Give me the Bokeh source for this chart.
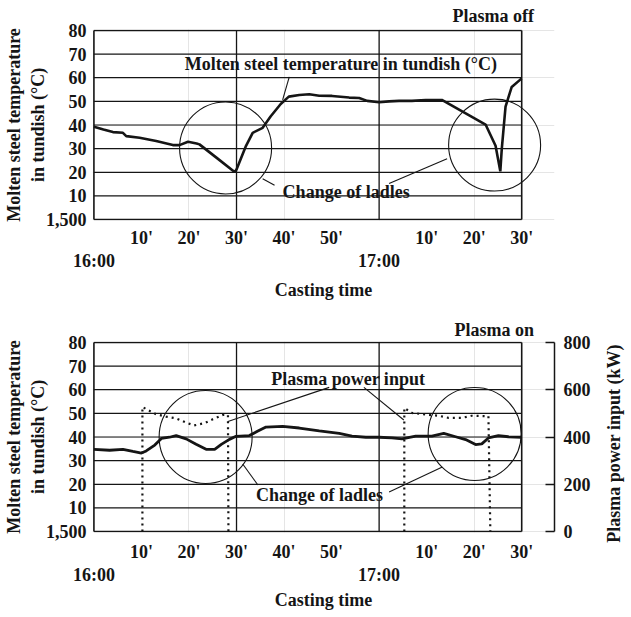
from bokeh.plotting import figure
from bokeh.models import Range1d, LinearAxis, FixedTicker
from bokeh.layouts import column, row
from bokeh.core.properties import value
from bokeh.embed import file_html
from bokeh.resources import INLINE
import math

# ---------------- data ----------------
# casting time in minutes after 16:00, temperature offset above 1,500 degC
T_START, T_END = 0, 90
temp_ticks = [0, 10, 20, 30, 40, 50, 60, 70, 80]
temp_tick_labels = {0: "1,500", 10: "10", 20: "20", 30: "30", 40: "40",
                    50: "50", 60: "60", 70: "70", 80: "80"}
minute_ticks = [10, 20, 30, 40, 50, 70, 80, 90]
minute_labels = {10: "10'", 20: "20'", 30: "30'", 40: "40'", 50: "50'",
                 70: "10'", 80: "20'", 90: "30'"}
hour_ticks = [0, 60]
hour_labels = {0: "16:00", 60: "17:00"}
divider_times = [30, 60]
power_ticks = [0, 200, 400, 600, 800]

# Plasma off
off_time = [0, 2, 4, 6.1, 6.8, 9.6, 13.1, 16.6, 18, 19.8, 21.6, 22.2, 25.7, 29.6,
            30, 32, 33.4, 35.5, 37.2, 39.3, 41, 43.2, 45.3, 47.4, 50.1, 53.7, 55.8,
            57.5, 60, 62.1, 64.2, 66.9, 69.8, 73.2, 82.4, 84.5, 85.5, 85.8, 86.6,
            87.9, 89.7, 90]
off_temp = [39.3, 38.1, 37, 36.7, 35.3, 34.6, 33.2, 31.5, 31.5, 32.9, 32.2, 31.8,
            26.3, 20.1, 21.2, 31.2, 36.7, 38.8, 43.7, 48.9, 52, 52.7, 53, 52.4,
            52.3, 51.6, 51.4, 50.2, 49.6, 50, 50.2, 50.2, 50.6, 50.6, 40.2, 31.2,
            20.4, 29.7, 47.8, 56.1, 59.2, 59.6]

# Plasma on
on_time = [0, 3.3, 6.1, 8.2, 10, 11, 12.8, 14.2, 15.9, 17.3, 19.4, 21.5, 23.6,
           25.4, 26.8, 28.5, 29.9, 32.7, 34.4, 36.2, 39.7, 43.2, 47.4, 51.6, 54.3,
           57.2, 60, 62.7, 64.8, 67.7, 71.1, 73.6, 76.1, 78.2, 80.3, 81.6, 83, 85.1,
           87.2, 90]
on_temp = [34.8, 34.4, 34.8, 33.9, 33.2, 34.1, 36.6, 39.4, 39.9, 40.6, 39.2, 36.9,
           34.8, 34.8, 36.9, 39, 40.3, 40.6, 42.4, 44.2, 44.5, 43.8, 42.6, 41.5,
           40.4, 39.9, 39.9, 39.6, 39.2, 40.4, 40.4, 41.5, 40.1, 38.9, 36.8, 37.1,
           39.6, 40.6, 40.1, 39.9]
power1_time = [10.2, 10.2, 11.4, 13.1, 15.2, 17.3, 19.4, 21.1, 23.3, 25, 27.1, 28.2, 28.3]
power1_kw = [0, 527, 514, 496, 486, 479, 461, 449, 459, 475, 493, 493, 0]
power2_time = [65.3, 65.3, 66.9, 69.8, 72.5, 74.6, 77.4, 79.5, 83, 83.4]
power2_kw = [0, 523, 502, 495, 490, 481, 481, 490, 488, 0]

# annotations: ladle-change circles (time, temp)
off_circles_t = [27.7, 84.3]
off_circles_v = [30.3, 31.5]
on_circles_t = [23.5, 80.1]
on_circles_v = [40.0, 41.3]

FONT = "Liberation Serif"
INK = "#151515"
PAD_Y = 0.4
FRAME_H = 191
BOT_TOP, BOT_BOTTOM = 39, 76


def style_axis(a):
    a.major_label_text_font = FONT
    a.major_label_text_font_size = "18px"
    a.major_label_text_font_style = "bold"
    a.major_label_text_color = INK
    a.axis_label_text_font = FONT
    a.axis_label_text_font_size = "18px"
    a.axis_label_text_font_style = "bold"
    a.axis_label_text_color = INK


def base_fig(title, top_border, bottom_border, right_border, title_so,
             minute_so, casting_so):
    p = figure(title=title, frame_width=462, frame_height=FRAME_H,
               x_range=Range1d(-0.3, 96.9), y_range=Range1d(-PAD_Y, 80 + PAD_Y),
               x_axis_location=None, y_axis_location=None,
               output_backend="svg", toolbar_location=None,
               min_border_left=86, min_border_right=right_border,
               min_border_top=top_border, min_border_bottom=bottom_border)
    p.outline_line_color = None
    p.title.align = "right"
    p.title.offset = 16
    p.title.standoff = title_so
    p.title.text_font = FONT
    p.title.text_font_size = "18px"
    p.title.text_font_style = "bold"
    p.title.text_color = INK

    # left temperature axis
    ya = LinearAxis(ticker=FixedTicker(ticks=temp_ticks),
                    major_label_overrides=temp_tick_labels,
                    axis_label="Molten steel temperature\nin tundish (°C)")
    ya.axis_line_color = None
    ya.major_tick_line_color = None
    ya.minor_tick_line_color = None
    ya.major_tick_in = 0
    ya.major_tick_out = 0
    ya.major_label_standoff = 6
    ya.axis_label_standoff = -5
    style_axis(ya)
    p.add_layout(ya, "left")

    # minutes row, then hours row + title
    xa = LinearAxis(ticker=FixedTicker(ticks=minute_ticks),
                    major_label_overrides=minute_labels)
    xh = LinearAxis(ticker=FixedTicker(ticks=hour_ticks),
                    major_label_overrides=hour_labels, axis_label="Casting time")
    for a, so in [(xa, minute_so), (xh, 0)]:
        a.axis_line_color = None
        a.major_tick_line_color = None
        a.minor_tick_line_color = None
        a.major_tick_in = 0
        a.major_tick_out = 0
        a.major_label_standoff = so
        style_axis(a)
    xh.axis_label_standoff = casting_so
    p.add_layout(xa, "below")
    p.add_layout(xh, "below")

    # grid lines within chart box
    inner = [t for t in temp_ticks if 0 < t < 80]
    p.segment(x0=[T_START] * len(inner), y0=inner, x1=[T_END] * len(inner), y1=inner,
              line_color=INK, line_width=1.2)
    p.segment(x0=divider_times, y0=[0] * len(divider_times), x1=divider_times,
              y1=[80] * len(divider_times), line_color=INK, line_width=1.3)
    # box
    p.segment(x0=[T_START, T_START, T_START, T_END], y0=[0, 80, 0, 0],
              x1=[T_END, T_END, T_START, T_END], y1=[0, 80, 80, 80],
              line_color=INK, line_width=1.6)
    return p


def label(p, x, y, txt):
    p.text(x=[x], y=[y], text=[txt], text_font=value(FONT), text_font_size="18px",
           text_font_style="bold", text_color=INK, text_baseline="middle",
           text_align="left")


# ---------------- top: plasma off ----------------
p1 = base_fig("Plasma  off", 24, 79, 64, 7, 7, 6)
p1.line(off_time, off_temp, line_color=INK, line_width=2.6)
p1.scatter(off_circles_t, off_circles_v, marker="circle", size=92,
           fill_color=None, line_color=INK, line_width=1.1)
label(p1, 19.1, 66.0, "Molten steel temperature in tundish (°C)")
label(p1, 39.7, 11.6, "Change of ladles")
p1.segment(x0=[41.1, 35.5, 74.3], y0=[60.4, 17.3, 25.7],
           x1=[39.7, 38.0, 62.1], y1=[50.6, 14.5, 15.3],
           line_color=INK, line_width=1.1)

# ---------------- bottom: plasma on ----------------
p2 = base_fig("Plasma  on", BOT_TOP, BOT_BOTTOM, 42, 4, 9, 2)
p2.extra_y_ranges = {"power": Range1d(-PAD_Y * 10, 800 + PAD_Y * 10)}
ra = LinearAxis(y_range_name="power", ticker=FixedTicker(ticks=power_ticks),
                bounds=(0, 800))
ra.axis_line_color = INK
ra.axis_line_width = 1.5
ra.major_tick_line_color = INK
ra.major_tick_line_width = 1.5
ra.major_tick_in = 9
ra.major_tick_out = 0
ra.minor_tick_line_color = None
ra.major_label_standoff = 9
style_axis(ra)
p2.add_layout(ra, "right")

p2.line(on_time, on_temp, line_color=INK, line_width=2.8)
p2.line(power1_time, power1_kw, y_range_name="power", line_color=INK,
        line_width=2.2, line_dash="2 4")
p2.line(power2_time, power2_kw, y_range_name="power", line_color=INK,
        line_width=2.2, line_dash="2 4")
p2.scatter(on_circles_t, on_circles_v, marker="circle", size=93,
           fill_color=None, line_color=INK, line_width=1.1)
label(p2, 37.3, 64.5, "Plasma power input")
label(p2, 34.1, 15.6, "Change of ladles")
p2.segment(x0=[49.5, 56.8, 31.3, 73.3], y0=[61.0, 61.0, 28.6, 27.3],
           x1=[28.2, 65.2, 34.5, 62.1], y1=[46.6, 47.2, 19.7, 16.7],
           line_color=INK, line_width=1.1)

# right-axis title strip (reads bottom to top, as in the original);
# its frame top lines up with the bottom chart's frame top
STRIP_H = 232
lab = figure(frame_width=30, frame_height=STRIP_H,
             x_range=Range1d(0, 30), y_range=Range1d(0, STRIP_H),
             x_axis_location=None, y_axis_location=None,
             output_backend="svg", toolbar_location=None,
             min_border_left=0, min_border_right=0,
             min_border_top=BOT_TOP, min_border_bottom=0)
lab.outline_line_color = None
lab.xgrid.visible = False
lab.ygrid.visible = False
lab.text(x=[17], y=[STRIP_H - 102], text=["Plasma power input (kW)"],
         angle=math.pi / 2, text_font=value(FONT), text_font_size="18px",
         text_font_style="bold", text_color=INK, text_align="center",
         text_baseline="middle")

layout = column(p1, row(p2, lab, spacing=0), spacing=0)
open("out.html", "w").write(file_html(layout, INLINE))
